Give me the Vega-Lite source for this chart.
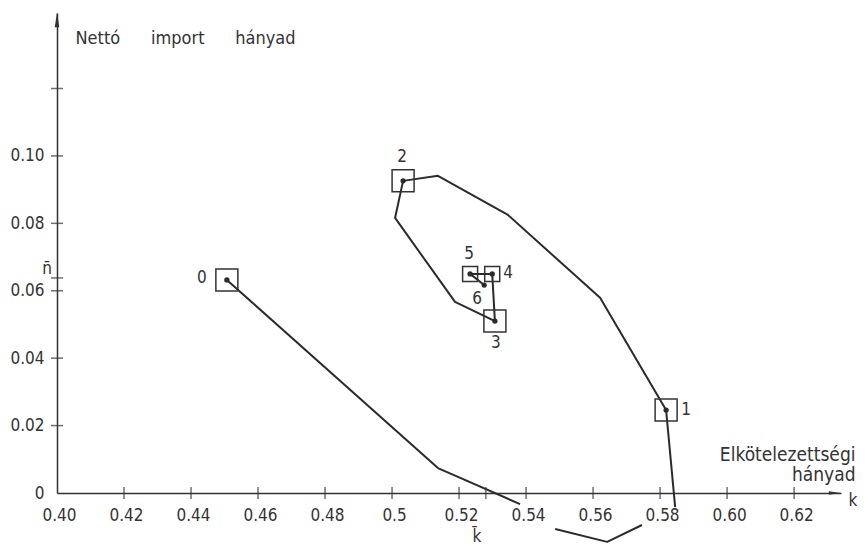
{
  "$schema": "https://vega.github.io/schema/vega-lite/v6.json",
  "width": 784,
  "height": 480,
  "autosize": {"type": "none"},
  "padding": {"left": 57, "top": 13, "right": 26, "bottom": 55},
  "background": "#ffffff",
  "config": {
    "font": "DejaVu Sans Condensed",
    "view": {"stroke": null},
    "text": {"font": "DejaVu Sans Condensed", "fontSize": 17, "color": "#333333"}
  },
  "datasets": {
    "path": [
      {"seg": "a", "ord": 1, "k": 0.4507, "n": 0.0632},
      {"seg": "a", "ord": 2, "k": 0.5137, "n": 0.0074},
      {"seg": "a", "ord": 3, "k": 0.5382, "n": -0.0033},
      {"seg": "b", "ord": 4, "k": 0.5487, "n": -0.0107},
      {"seg": "b", "ord": 5, "k": 0.5642, "n": -0.0145},
      {"seg": "b", "ord": 6, "k": 0.5746, "n": -0.0095},
      {"seg": "c", "ord": 7, "k": 0.5845, "n": -0.0042},
      {"seg": "c", "ord": 8, "k": 0.5818, "n": 0.0246},
      {"seg": "c", "ord": 9, "k": 0.5621, "n": 0.0579},
      {"seg": "c", "ord": 10, "k": 0.5346, "n": 0.0825},
      {"seg": "c", "ord": 11, "k": 0.5137, "n": 0.0941},
      {"seg": "c", "ord": 12, "k": 0.5033, "n": 0.0926},
      {"seg": "c", "ord": 13, "k": 0.5009, "n": 0.0816},
      {"seg": "c", "ord": 14, "k": 0.5188, "n": 0.0567},
      {"seg": "c", "ord": 15, "k": 0.5307, "n": 0.0510},
      {"seg": "c", "ord": 16, "k": 0.5299, "n": 0.0650},
      {"seg": "c", "ord": 17, "k": 0.5233, "n": 0.0650},
      {"seg": "c", "ord": 18, "k": 0.5275, "n": 0.0617}
    ],
    "pts": [
      {"id": 0, "k": 0.4507, "n": 0.0632},
      {"id": 1, "k": 0.5818, "n": 0.0246},
      {"id": 2, "k": 0.5033, "n": 0.0926},
      {"id": 3, "k": 0.5307, "n": 0.0510},
      {"id": 4, "k": 0.5299, "n": 0.0650},
      {"id": 5, "k": 0.5233, "n": 0.0650},
      {"id": 6, "k": 0.5275, "n": 0.0617}
    ],
    "xt": [
      {"k": 0.42}, {"k": 0.44}, {"k": 0.46}, {"k": 0.48}, {"k": 0.50},
      {"k": 0.52}, {"k": 0.528}, {"k": 0.54}, {"k": 0.56}, {"k": 0.58}, {"k": 0.60}, {"k": 0.62}
    ],
    "yt": [
      {"n": 0.02}, {"n": 0.04}, {"n": 0.06}, {"n": 0.0638}, {"n": 0.08}, {"n": 0.10}, {"n": 0.12}
    ],
    "ann": [
      {"name": "kbar", "text": "k̄", "k": 0.528, "n": 0},
      {"name": "nbar", "text": "n̄", "k": 0.40, "n": 0.0638},
      {"name": "kend", "text": "k", "k": 0.634, "n": 0}
    ],
    "arrows": [
      {"dir": "up", "k": 0.40, "n": 0.1404},
      {"dir": "right", "k": 0.6322, "n": 0}
    ]
  },
  "layer": [
    {
      "data": {"name": "path"},
      "mark": {"type": "line", "color": "#2b2b2b", "strokeWidth": 2, "strokeJoin": "round"},
      "encoding": {
        "x": {
          "field": "k", "type": "quantitative",
          "scale": {"domain": [0.40, 0.634], "nice": false, "zero": false},
          "axis": {
            "values": [0.40, 0.42, 0.44, 0.46, 0.48, 0.50, 0.52, 0.54, 0.56, 0.58, 0.60, 0.62],
            "labelExpr": "datum.value == 0.5 ? '0.5' : format(datum.value, '.2f')",
            "ticks": false, "grid": false,
            "domainColor": "#333333", "domainWidth": 1.5,
            "labelFont": "DejaVu Sans Condensed", "labelFontSize": 17, "labelColor": "#333333",
            "labelPadding": 14, "labelOffset": 2, "labelFlush": false, "labelOverlap": false,
            "title": ["Elkötelezettségi", "hányad"],
            "titleFont": "DejaVu Sans Condensed", "titleFontSize": 19, "titleFontWeight": "normal",
            "titleColor": "#333333", "titleAlign": "right", "titleBaseline": "alphabetic",
            "titleX": 798, "titleY": -33, "titleLineHeight": 20
          }
        },
        "y": {
          "field": "n", "type": "quantitative",
          "scale": {"domain": [0, 0.1424], "nice": false, "zero": false},
          "axis": {
            "values": [0, 0.02, 0.04, 0.06, 0.08, 0.10, 0.12],
            "labelExpr": "datum.value == 0 ? '0' : (datum.value > 0.11 ? '' : format(datum.value, '.2f'))",
            "ticks": false, "grid": false,
            "domainColor": "#333333", "domainWidth": 1.5,
            "labelFont": "DejaVu Sans Condensed", "labelFontSize": 17, "labelColor": "#333333",
            "labelPadding": 13, "labelFlush": false, "labelOverlap": false,
            "title": "Nettó\u00a0\u00a0\u00a0\u00a0\u00a0\u00a0import\u00a0\u00a0\u00a0\u00a0\u00a0\u00a0hányad",
            "titleFont": "DejaVu Sans Condensed", "titleFontSize": 18, "titleFontWeight": "normal",
            "titleColor": "#333333", "titleAngle": 0, "titleAlign": "left", "titleBaseline": "middle",
            "titleX": 18, "titleY": 25
          }
        },
        "detail": {"field": "seg"},
        "order": {"field": "ord", "type": "quantitative"}
      }
    },
    {
      "data": {"name": "xt"},
      "mark": {"type": "tick", "orient": "vertical", "color": "#333333", "size": 12, "thickness": 1.5},
      "encoding": {
        "x": {"field": "k", "type": "quantitative"},
        "y": {"datum": 0, "type": "quantitative"}
      }
    },
    {
      "data": {"name": "yt"},
      "mark": {"type": "tick", "orient": "horizontal", "color": "#333333", "size": 12, "thickness": 1.5},
      "encoding": {
        "x": {"datum": 0.40, "type": "quantitative"},
        "y": {"field": "n", "type": "quantitative"}
      }
    },
    {
      "data": {"name": "arrows"},
      "transform": [{"filter": "datum.dir == 'up'"}],
      "mark": {"type": "point", "shape": "M0,-1L0.3,1L-0.3,1Z", "filled": true, "color": "#333333", "size": 225, "opacity": 1},
      "encoding": {
        "x": {"field": "k", "type": "quantitative"},
        "y": {"field": "n", "type": "quantitative"}
      }
    },
    {
      "data": {"name": "arrows"},
      "transform": [{"filter": "datum.dir == 'right'"}],
      "mark": {"type": "point", "shape": "M1,0L-1,-0.3L-1,0.3Z", "filled": true, "color": "#333333", "size": 150, "opacity": 1},
      "encoding": {
        "x": {"field": "k", "type": "quantitative"},
        "y": {"field": "n", "type": "quantitative"}
      }
    },
    {
      "data": {"name": "pts"},
      "transform": [{"filter": "datum.id <= 3"}],
      "mark": {"type": "point", "shape": "square", "filled": false, "color": "#333333", "strokeWidth": 1.5, "size": 484, "opacity": 1},
      "encoding": {
        "x": {"field": "k", "type": "quantitative"},
        "y": {"field": "n", "type": "quantitative"}
      }
    },
    {
      "data": {"name": "pts"},
      "transform": [{"filter": "datum.id == 4 || datum.id == 5"}],
      "mark": {"type": "point", "shape": "square", "filled": false, "color": "#333333", "strokeWidth": 1.5, "size": 225, "opacity": 1},
      "encoding": {
        "x": {"field": "k", "type": "quantitative"},
        "y": {"field": "n", "type": "quantitative"}
      }
    },
    {
      "data": {"name": "pts"},
      "mark": {"type": "circle", "color": "#2b2b2b", "size": 28, "opacity": 1},
      "encoding": {
        "x": {"field": "k", "type": "quantitative"},
        "y": {"field": "n", "type": "quantitative"}
      }
    },
    {
      "data": {"name": "pts"},
      "transform": [{"filter": "datum.id == 0"}],
      "mark": {"type": "text", "dx": -25, "dy": -2, "align": "center", "baseline": "middle"},
      "encoding": {"x": {"field": "k", "type": "quantitative"}, "y": {"field": "n", "type": "quantitative"}, "text": {"field": "id"}}
    },
    {
      "data": {"name": "pts"},
      "transform": [{"filter": "datum.id == 1"}],
      "mark": {"type": "text", "dx": 20, "dy": 0, "align": "center", "baseline": "middle"},
      "encoding": {"x": {"field": "k", "type": "quantitative"}, "y": {"field": "n", "type": "quantitative"}, "text": {"field": "id"}}
    },
    {
      "data": {"name": "pts"},
      "transform": [{"filter": "datum.id == 2"}],
      "mark": {"type": "text", "dx": -1, "dy": -24, "align": "center", "baseline": "middle"},
      "encoding": {"x": {"field": "k", "type": "quantitative"}, "y": {"field": "n", "type": "quantitative"}, "text": {"field": "id"}}
    },
    {
      "data": {"name": "pts"},
      "transform": [{"filter": "datum.id == 3"}],
      "mark": {"type": "text", "dx": 1, "dy": 22, "align": "center", "baseline": "middle"},
      "encoding": {"x": {"field": "k", "type": "quantitative"}, "y": {"field": "n", "type": "quantitative"}, "text": {"field": "id"}}
    },
    {
      "data": {"name": "pts"},
      "transform": [{"filter": "datum.id == 4"}],
      "mark": {"type": "text", "dx": 16, "dy": -1, "align": "center", "baseline": "middle"},
      "encoding": {"x": {"field": "k", "type": "quantitative"}, "y": {"field": "n", "type": "quantitative"}, "text": {"field": "id"}}
    },
    {
      "data": {"name": "pts"},
      "transform": [{"filter": "datum.id == 5"}],
      "mark": {"type": "text", "dx": -1, "dy": -20, "align": "center", "baseline": "middle"},
      "encoding": {"x": {"field": "k", "type": "quantitative"}, "y": {"field": "n", "type": "quantitative"}, "text": {"field": "id"}}
    },
    {
      "data": {"name": "pts"},
      "transform": [{"filter": "datum.id == 6"}],
      "mark": {"type": "text", "dx": -7, "dy": 14, "align": "center", "baseline": "middle"},
      "encoding": {"x": {"field": "k", "type": "quantitative"}, "y": {"field": "n", "type": "quantitative"}, "text": {"field": "id"}}
    },
    {
      "data": {"name": "ann"},
      "transform": [{"filter": "datum.name == 'kbar'"}],
      "mark": {"type": "text", "dx": -9, "dy": 44, "align": "center", "baseline": "middle"},
      "encoding": {"x": {"field": "k", "type": "quantitative"}, "y": {"field": "n", "type": "quantitative"}, "text": {"field": "text"}}
    },
    {
      "data": {"name": "ann"},
      "transform": [{"filter": "datum.name == 'nbar'"}],
      "mark": {"type": "text", "dx": -10, "dy": -9, "align": "center", "baseline": "middle"},
      "encoding": {"x": {"field": "k", "type": "quantitative"}, "y": {"field": "n", "type": "quantitative"}, "text": {"field": "text"}}
    },
    {
      "data": {"name": "ann"},
      "transform": [{"filter": "datum.name == 'kend'"}],
      "mark": {"type": "text", "dx": 12, "dy": 8, "align": "center", "baseline": "middle"},
      "encoding": {"x": {"field": "k", "type": "quantitative"}, "y": {"field": "n", "type": "quantitative"}, "text": {"field": "text"}}
    }
  ]
}
